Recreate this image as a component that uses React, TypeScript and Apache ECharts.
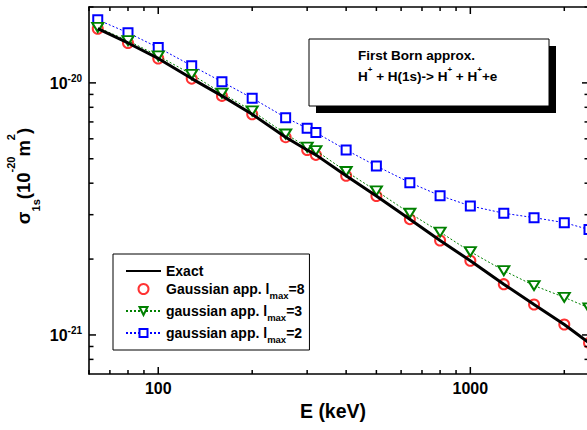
import React, { useEffect, useRef } from 'react';
import * as echarts from 'echarts';

// ---- data ----
const energyKeV = [64, 80, 100, 128, 160, 200, 256, 300, 320, 400, 500, 640, 800, 1000, 1280, 1600, 2000, 2400];
const exactSigma = [1.64e-20, 1.44e-20, 1.25e-20, 1.04e-20, 8.88e-21, 7.51e-21, 6.09e-21, 5.42e-21, 5.18e-21, 4.28e-21, 3.56e-21, 2.88e-21, 2.37e-21, 1.97e-21, 1.59e-21, 1.32e-21, 1.10e-21, 9.3e-22];
const gaussL8Sigma = [1.64e-20, 1.44e-20, 1.25e-20, 1.04e-20, 8.88e-21, 7.51e-21, 6.09e-21, 5.42e-21, 5.18e-21, 4.28e-21, 3.56e-21, 2.88e-21, 2.37e-21, 1.97e-21, 1.59e-21, 1.32e-21, 1.10e-21, 9.3e-22];
const gaussL3Sigma = [1.66e-20, 1.47e-20, 1.28e-20, 1.08e-20, 9.10e-21, 7.74e-21, 6.27e-21, 5.56e-21, 5.39e-21, 4.45e-21, 3.73e-21, 3.04e-21, 2.56e-21, 2.14e-21, 1.80e-21, 1.57e-21, 1.41e-21, 1.28e-21];
const gaussL2Sigma = [1.78e-20, 1.58e-20, 1.38e-20, 1.17e-20, 1.01e-20, 8.70e-21, 7.28e-21, 6.61e-21, 6.35e-21, 5.42e-21, 4.68e-21, 4.02e-21, 3.57e-21, 3.25e-21, 3.04e-21, 2.92e-21, 2.79e-21, 2.62e-21];

const seriesNames = ['Exact', 'Gaussian app. lmax=8', 'gaussian app. lmax=3', 'gaussian app. lmax=2'];

const xMin = 60;
const xMax = 2400;
const yMin = 7e-22;
const yMax = 2e-20;
const xMajorTicks = [100, 1000];
const xMinorTicks = [60, 70, 80, 90, 200, 300, 400, 500, 600, 700, 800, 900, 2000];
const yMajorTicks = [1e-21, 1e-20];
const yMinorTicks = [8e-22, 9e-22, 2e-21, 3e-21, 4e-21, 5e-21, 6e-21, 7e-21, 8e-21, 9e-21, 2e-20];

const FONT = "'Liberation Sans', Arial, Helvetica, sans-serif";
const lg = (v: number) => Math.log10(v);

const pairs = (ys: number[]) => energyKeV.map((e, i) => [e, ys[i]]);

function frameAxis(kind: 'x' | 'y', position: string, label?: any, extra?: any) {
  const min = kind === 'x' ? lg(xMin) : lg(yMin);
  const max = kind === 'x' ? lg(xMax) : lg(yMax);
  return {
    type: 'value',
    gridIndex: 0,
    position,
    min,
    max,
    axisLine: { show: true, onZero: false, lineStyle: { color: '#000', width: 1.6 } },
    axisTick: { show: false },
    axisLabel: label ? label : { show: false },
    splitLine: { show: false },
    minorTick: { show: false },
    ...(extra || {}),
  };
}

// inward tick marks on both opposite sides, positioned through the log axes
function tickSeries(kind: 'x' | 'y', values: number[], len: number) {
  return {
    type: 'custom',
    xAxisIndex: 0,
    yAxisIndex: 0,
    silent: true,
    clip: false,
    z: 6,
    data: values.map((v) => (kind === 'x' ? [v, yMin] : [xMin, v])),
    renderItem: (params: any, api: any) => {
      const cs = params.coordSys;
      const p = api.coord([api.value(0), api.value(1)]);
      const style = { stroke: '#000', lineWidth: 1.5 };
      if (kind === 'x') {
        const b = cs.y + cs.height;
        return {
          type: 'group',
          children: [
            { type: 'line', shape: { x1: p[0], y1: b, x2: p[0], y2: b - len }, style },
            { type: 'line', shape: { x1: p[0], y1: cs.y, x2: p[0], y2: cs.y + len }, style },
          ],
        };
      }
      const r = cs.x + cs.width;
      return {
        type: 'group',
        children: [
          { type: 'line', shape: { x1: cs.x, y1: p[1], x2: cs.x + len, y2: p[1] }, style },
          { type: 'line', shape: { x1: r, y1: p[1], x2: r - len, y2: p[1] }, style },
        ],
      };
    },
  };
}

export default function App() {
  const ref = useRef<HTMLDivElement>(null);

  useEffect(() => {
    if (!ref.current) return;
    const chart = echarts.init(ref.current, null, { renderer: 'svg' });

    const xLabel = {
      show: true,
      inside: false,
      margin: 6,
      customValues: xMajorTicks.map(lg),
      formatter: (v: number) => String(Math.round(Math.pow(10, v))),
      color: '#000',
      fontFamily: FONT,
      fontWeight: 'bold',
      fontSize: 16,
    };
    const yLabel = {
      show: true,
      inside: false,
      margin: 7,
      customValues: yMajorTicks.map(lg),
      formatter: (v: number) => `{b|10}{s|${Math.round(v)}}`,
      rich: {
        b: { fontFamily: FONT, fontWeight: 'bold', fontSize: 16, color: '#000', lineHeight: 18, verticalAlign: 'bottom' },
        s: { fontFamily: FONT, fontWeight: 'bold', fontSize: 10, color: '#000', lineHeight: 18, verticalAlign: 'top' },
      },
    };

    const legendRich = {
      e: { fontFamily: FONT, fontWeight: 'bold', fontSize: 14, color: '#000', lineHeight: 16, verticalAlign: 'middle' },
      n: { fontFamily: FONT, fontWeight: 'bold', fontSize: 14, color: '#000', lineHeight: 22, verticalAlign: 'middle' },
      sub: { fontFamily: FONT, fontWeight: 'bold', fontSize: 9.5, color: '#000', lineHeight: 22, verticalAlign: 'bottom' },
    };
    const legendFormat = (name: string) => {
      if (name === 'Exact') return '{e|Exact}';
      const m = name.match(/^(.*)lmax=(\d+)$/);
      if (!m) return `{n|${name}}`;
      return `{n|${m[1]}l}{sub|max}{n|=${m[2]}}`;
    };

    const option: any = {
      animation: false,
      backgroundColor: '#fff',
      grid: { left: 89, top: 7, width: 500, height: 367, containLabel: false, outerBoundsMode: 'none' },
      xAxis: [
        { type: 'log', logBase: 10, min: xMin, max: xMax, show: false, gridIndex: 0 },
        frameAxis('x', 'bottom', xLabel, {
          name: 'E (keV)',
          nameLocation: 'middle',
          nameGap: 27,
          nameTextStyle: { fontFamily: FONT, fontWeight: 'bold', fontSize: 19.5, color: '#000', padding: [0, 12, 0, 0] },
        }),
        frameAxis('x', 'top'),
      ],
      yAxis: [
        { type: 'log', logBase: 10, min: yMin, max: yMax, show: false, gridIndex: 0 },
        frameAxis('y', 'left', yLabel),
        frameAxis('y', 'right'),
      ],
      legend: {
        left: 113,
        top: 254,
        orient: 'vertical',
        padding: [10, 5, 6, 12],
        itemGap: 4,
        itemWidth: 35,
        itemHeight: 10,
        borderColor: '#000',
        borderWidth: 1,
        borderRadius: 0,
        backgroundColor: '#fff',
        selectedMode: false,
        data: [
          { name: seriesNames[0], itemStyle: { opacity: 0 } },
          seriesNames[1],
          seriesNames[2],
          seriesNames[3],
        ],
        formatter: legendFormat,
        textStyle: { fontFamily: FONT, fontWeight: 'bold', fontSize: 14, color: '#000', rich: legendRich },
      },
      series: [
        {
          name: seriesNames[3],
          type: 'line',
          xAxisIndex: 0,
          yAxisIndex: 0,
          data: pairs(gaussL2Sigma),
          symbol: 'emptyRect',
          symbolSize: 9,
          showAllSymbol: true,
          lineStyle: { color: '#0000ff', width: 1, type: [2, 2] },
          itemStyle: { color: '#0000ff', borderWidth: 1.2 },
          z: 2,
        },
        {
          name: seriesNames[1],
          type: 'scatter',
          xAxisIndex: 0,
          yAxisIndex: 0,
          data: pairs(gaussL8Sigma),
          symbol: 'emptyCircle',
          symbolSize: 10,
          itemStyle: { color: '#ff0000', borderWidth: 1.1 },
          z: 3,
        },
        {
          name: seriesNames[2],
          type: 'line',
          xAxisIndex: 0,
          yAxisIndex: 0,
          data: pairs(gaussL3Sigma),
          symbol: 'emptyTriangle',
          symbolRotate: 180,
          symbolSize: [11, 9],
          showAllSymbol: true,
          lineStyle: { color: '#008000', width: 1, type: [2, 2] },
          itemStyle: { color: '#008000', borderWidth: 1.2 },
          z: 4,
        },
        {
          name: seriesNames[0],
          type: 'line',
          xAxisIndex: 0,
          yAxisIndex: 0,
          data: pairs(exactSigma),
          symbol: 'none',
          lineStyle: { color: '#000', width: 3 },
          itemStyle: { color: '#000' },
          z: 5,
        },
        tickSeries('x', xMajorTicks, 7),
        tickSeries('x', xMinorTicks, 4),
        tickSeries('y', yMajorTicks, 7),
        tickSeries('y', yMinorTicks, 4.5),
      ],
      graphic: [
        {
          type: 'text',
          x: 23,
          y: 176,
          rotation: Math.PI / 2,
          style: {
            text: '{a|σ}{sub|1s}{a|(10}{sup|-20}{a|m}{sup|2}{a|)}',
            align: 'center',
            verticalAlign: 'middle',
            rich: {
              a: { fontFamily: FONT, fontWeight: 'bold', fontSize: 18.5, fill: '#000', lineHeight: 36, verticalAlign: 'middle' },
              sub: { fontFamily: FONT, fontWeight: 'bold', fontSize: 11, fill: '#000', lineHeight: 36, verticalAlign: 'bottom' },
              sup: { fontFamily: FONT, fontWeight: 'bold', fontSize: 11, fill: '#000', lineHeight: 36, verticalAlign: 'top' },
            },
          },
        },
        {
          type: 'rect',
          shape: { x: 316, y: 46, width: 240, height: 67 },
          style: { fill: '#000' },
          z: 10,
        },
        {
          type: 'rect',
          shape: { x: 309, y: 39, width: 240, height: 67 },
          style: { fill: '#fff', stroke: '#000', lineWidth: 1 },
          z: 11,
        },
        {
          type: 'text',
          x: 358,
          y: 55,
          z: 12,
          style: {
            text: 'First Born approx.',
            fontFamily: FONT,
            fontWeight: 'bold',
            fontSize: 13.5,
            fill: '#000',
            align: 'left',
            verticalAlign: 'middle',
          },
        },
        {
          type: 'text',
          x: 358,
          y: 74,
          z: 12,
          style: {
            text: '{n|H}{s|+}{n| + H(1s)-> H}{s|+}{n| + H}{s|+}{n|+e}',
            align: 'left',
            verticalAlign: 'middle',
            rich: {
              n: { fontFamily: FONT, fontWeight: 'bold', fontSize: 13.5, fill: '#000', lineHeight: 18, verticalAlign: 'bottom' },
              s: { fontFamily: FONT, fontWeight: 'bold', fontSize: 8, fill: '#000', lineHeight: 18, verticalAlign: 'top' },
            },
          },
        },
      ],
    };

    chart.setOption(option);
    return () => chart.dispose();
  }, []);

  return <div ref={ref} style={{ width: 587, height: 430, position: 'absolute', left: 0, top: 0 }} />;
}
